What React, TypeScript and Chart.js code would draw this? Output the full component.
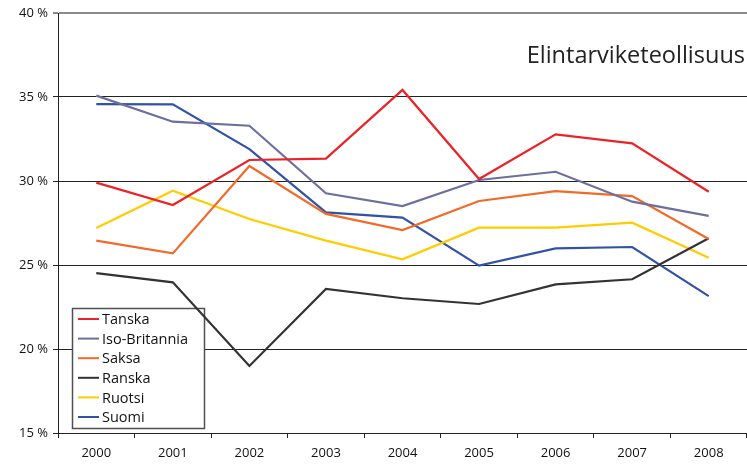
import React, { useEffect, useRef } from "react";
import { Chart, registerables } from "chart.js";

Chart.register(...registerables);

const years = ["2000", "2001", "2002", "2003", "2004", "2005", "2006", "2007", "2008"];
const tanska = [29.9, 28.57, 31.25, 31.33, 35.42, 30.12, 32.78, 32.24, 29.36];
const isoBritannia = [35.08, 33.53, 33.29, 29.27, 28.51, 30.06, 30.55, 28.77, 27.92];
const saksa = [26.45, 25.69, 30.89, 28.04, 27.08, 28.81, 29.4, 29.1, 26.55];
const ranska = [24.52, 23.97, 18.99, 23.57, 23.02, 22.68, 23.85, 24.15, 26.59];
const ruotsi = [27.2, 29.42, 27.74, 26.45, 25.34, 27.22, 27.22, 27.52, 25.43];
const suomi = [34.58, 34.56, 31.9, 28.13, 27.82, 24.96, 25.99, 26.07, 23.15];
const seriesNames = ["Tanska", "Iso-Britannia", "Saksa", "Ranska", "Ruotsi", "Suomi"];
const seriesColors = ["#ec2227", "#6e6e9f", "#f26a2a", "#333333", "#ffcc00", "#3152a6"];
const titleText = "Elintarviketeollisuus";

const FONT = "'Open Sans', 'DejaVu Sans', sans-serif";
const LEG = { x: 72, y: 308, w: 132, h: 120 };

export default function App() {
  const ref = useRef<HTMLCanvasElement | null>(null);
  useEffect(() => {
    const canvas = ref.current;
    if (!canvas) return;
    const values = [tanska, isoBritannia, saksa, ranska, ruotsi, suomi];

    const overlay = {
      id: "overlay",
      beforeDatasetsDraw(chart: any) {
        const ctx = chart.ctx;
        ctx.save();
        ctx.fillStyle = "#fff";
        ctx.fillRect(LEG.x, LEG.y, LEG.w, LEG.h);
        ctx.strokeStyle = "#505050";
        ctx.lineWidth = 1.5;
        ctx.strokeRect(LEG.x + 0.5, LEG.y + 0.5, LEG.w, LEG.h);
        ctx.restore();
      },
      afterDraw(chart: any) {
        const ctx = chart.ctx;
        ctx.save();
        ctx.font = `23.5px ${FONT}`;
        ctx.fillStyle = "#222";
        ctx.textAlign = "right";
        ctx.textBaseline = "middle";
        ctx.fillText(titleText, 745, 56);
        ctx.font = `14.5px ${FONT}`;
        ctx.textAlign = "left";
        chart.data.datasets.forEach((ds: any, i: number) => {
          const y = 319 + i * 19.6;
          ctx.strokeStyle = ds.borderColor;
          ctx.lineWidth = 2;
          ctx.beginPath();
          ctx.moveTo(78, y);
          ctx.lineTo(99, y);
          ctx.stroke();
          ctx.fillStyle = "#111";
          ctx.fillText(ds.label, 102, y + 1);
        });
        ctx.restore();
      },
    };

    const chart = new Chart(canvas, {
      type: "line",
      data: {
        labels: years,
        datasets: seriesNames.map((name, i) => ({
          label: name,
          data: values[i],
          borderColor: seriesColors[i],
          backgroundColor: seriesColors[i],
          borderWidth: 2.2,
          pointRadius: 0,
          tension: 0,
          fill: false,
        })),
      },
      options: {
        responsive: false,
        animation: false,
        layout: { padding: { top: 13, right: 0, left: 0, bottom: 0 } },
        plugins: {
          legend: { display: false },
          title: { display: false },
          tooltip: { enabled: false },
        },
        scales: {
          x: {
            offset: true,
            grid: {
              offset: true,
              drawOnChartArea: false,
              drawTicks: true,
              tickLength: 5,
              color: "#222",
            },
            border: { color: "#222", width: 1 },
            ticks: {
              color: "#111",
              font: { family: FONT, size: 13 },
              padding: 7,
              maxRotation: 0,
            },
            afterFit(scale: any) {
              scale.height = 33;
            },
          },
          y: {
            min: 15,
            max: 40,
            grid: {
              color: (c: any) => (c.tick && c.tick.value === 40 ? "#8a8a8a" : "#222"),
              lineWidth: (c: any) => (c.tick && c.tick.value === 40 ? 2 : 1),
              tickLength: 5,
            },
            border: { color: "#222", width: 1 },
            ticks: {
              stepSize: 5,
              color: "#111",
              font: { family: FONT, size: 13 },
              padding: 5,
              callback: (v: any) => `${v} %`,
            },
            afterFit(scale: any) {
              scale.width = 58;
            },
          },
        },
      },
      plugins: [overlay],
    });
    return () => chart.destroy();
  }, []);

  return (
    <div style={{ position: "fixed", left: 0, top: 0, width: 747, height: 466, background: "#fff" }}>
      <canvas ref={ref} width={747} height={466} style={{ display: "block" }} />
    </div>
  );
}
